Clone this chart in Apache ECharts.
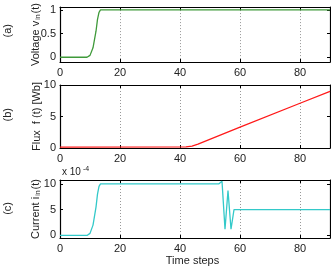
<!DOCTYPE html>
<html><head><meta charset="utf-8">
<script src="https://cdn.jsdelivr.net/npm/echarts@6/dist/echarts.min.js"></script>
<style>html,body{margin:0;padding:0;background:#fff}#c{width:331px;height:267px}</style>
</head><body><div id="c"></div>
<script>
// Time ticks
const timeTicks = [0, 20, 40, 60, 80];
// Panel (a) voltage
const voltageT = [0, 9, 10, 11, 12, 12.5, 13, 13.5, 90];
const voltageV = [0, 0, 0.04, 0.2, 0.55, 0.8, 0.95, 1, 1];
const voltageTicks = [0, 0.5, 1];
// Panel (b) flux
const fluxT = [0, 42, 44, 46, 60, 80, 90];
const fluxV = [0.15, 0.18, 0.3, 0.6, 3.3, 7.1, 9.0];
const fluxTicks = [0, 5, 10];
// Panel (c) current, in units of 1e-4
const currentT = [0, 9, 10, 11, 12, 12.5, 13, 13.5, 53, 54, 55, 56, 57, 58, 90];
const currentV = [0, 0, 0.4, 2, 5.5, 8, 9.5, 10, 10, 10.5, 1.2, 8.7, 1.2, 5, 5];
const currentTicks = [0, 5, 10];

const FONT = 'Liberation Sans';
const zip = (a, b) => a.map((x, i) => [x, b[i]]);

const grids = [
  {left: 60, right: 1, top: 2, height: 60},
  {left: 60, right: 1, top: 85, height: 63},
  {left: 60, right: 1, top: 180, height: 61}
];
const yRanges = [[-0.1, 1.06], [0, 10], [-0.5, 10.75]];
const yTicks = [voltageTicks, fluxTicks, currentTicks];
const yNames = ['Voltage v{sub|in}(t)', 'Flux  f (t) [Wb]', 'Current i{sub|in}(t)'];
const nameRich = {sub: {fontSize: 7, fontFamily: FONT, color: '#222', verticalAlign: 'bottom', padding: [6, 1, 0, 1]}};

const xAxes = [], yAxes = [];
grids.forEach((g, i) => {
  xAxes.push({
    type: 'value', gridIndex: i, min: 0, max: 90, position: 'bottom',
    axisLine: {show: true, onZero: false, lineStyle: {color: '#000', width: 1.2}},
    axisTick: {show: true, inside: true, length: 3, customValues: timeTicks, lineStyle: {color: '#000'}},
    axisLabel: {customValues: timeTicks, color: '#222', fontSize: 11, fontFamily: FONT, margin: 5},
    splitLine: {show: true, lineStyle: {color: '#999', type: [1, 2], width: 1}},
    name: i === 2 ? 'Time steps' : '', nameLocation: 'middle', nameGap: 17, nameMoveOverlap: false,
    nameTextStyle: {color: '#222', fontSize: 11, fontFamily: FONT, padding: [0, 0, 0, -5]}
  });
  xAxes.push({
    type: 'value', gridIndex: i, min: 0, max: 90, position: 'top',
    axisLine: {show: true, onZero: false, lineStyle: {color: '#000', width: 1.2}},
    axisTick: {show: true, inside: true, length: 3, customValues: timeTicks, lineStyle: {color: '#000'}},
    axisLabel: {show: false}, splitLine: {show: false}
  });
  yAxes.push({
    type: 'value', gridIndex: i, min: yRanges[i][0], max: yRanges[i][1], position: 'left',
    axisLine: {show: true, onZero: false, lineStyle: {color: '#000', width: 1.2}},
    axisTick: {show: true, inside: true, length: 3, customValues: yTicks[i], lineStyle: {color: '#000'}},
    axisLabel: {customValues: yTicks[i], color: '#222', fontSize: 11, fontFamily: FONT, margin: 4},
    splitLine: {show: false},
    name: yNames[i], nameLocation: 'middle', nameRotate: 90, nameGap: 18, nameMoveOverlap: false,
    nameTextStyle: {color: '#222', fontSize: 11, fontFamily: FONT, rich: nameRich}
  });
  yAxes.push({
    type: 'value', gridIndex: i, min: yRanges[i][0], max: yRanges[i][1], position: 'right',
    axisLine: {show: true, onZero: false, lineStyle: {color: '#000', width: 1.2}},
    axisTick: {show: true, inside: true, length: 3, customValues: yTicks[i], lineStyle: {color: '#000'}},
    axisLabel: {show: false}, splitLine: {show: false}
  });
});

const mk = (i, data, color) => ({
  type: 'line', xAxisIndex: 2 * i, yAxisIndex: 2 * i, data, showSymbol: false,
  lineStyle: {color, width: 1.3}, itemStyle: {color}, silent: true, animation: false
});

const chart = echarts.init(document.getElementById('c'));
chart.setOption({
  animation: false,
  grid: grids,
  xAxis: xAxes,
  yAxis: yAxes,
  series: [
    mk(0, zip(voltageT, voltageV), '#3f9a3a'),
    mk(1, zip(fluxT, fluxV), '#ff1a1a'),
    mk(2, zip(currentT, currentV), '#33c9c9')
  ],
  graphic: [
    {type: 'text', left: 2, top: 24, rotation: Math.PI / 2, style: {text: '(a)', fontSize: 11, fontFamily: FONT, fill: '#222'}},
    {type: 'text', left: 2, top: 108, rotation: Math.PI / 2, style: {text: '(b)', fontSize: 11, fontFamily: FONT, fill: '#222'}},
    {type: 'text', left: 2, top: 202, rotation: Math.PI / 2, style: {text: '(c)', fontSize: 11, fontFamily: FONT, fill: '#222'}},
    {type: 'text', left: 62, top: 166, style: {text: 'x 10{sup|-4}', fontSize: 10, fontFamily: FONT, fill: '#222',
      rich: {sup: {fontSize: 7, fontFamily: FONT, fill: '#222', verticalAlign: 'top', padding: [0, 0, 6, 2]}}}}
  ]
});
</script></body></html>
